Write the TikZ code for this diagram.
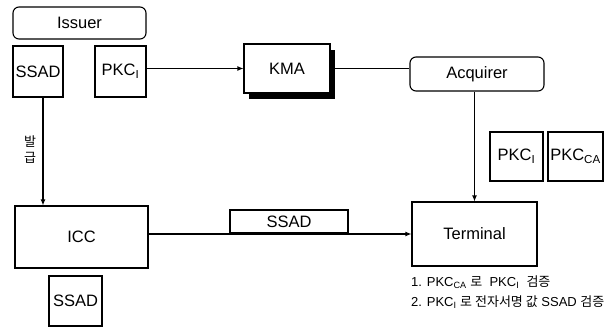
\documentclass[tikz,border=0pt]{standalone}
\usepackage{fontspec}
\setmainfont{Liberation Sans}
\newfontfamily\kr{Noto Sans CJK KR}
\usetikzlibrary{arrows.meta}
\begin{document}
\begin{tikzpicture}[x=1pt,y=-1pt,
  every node/.style={font=\fontsize{16.5}{18}\selectfont, inner sep=0pt},
  box/.style={draw, line width=1.1pt, fill=white},
  rbox/.style={box, rounded corners=6pt},
  conn/.style={line width=1.1pt},
  arr/.style={conn, -{Latex[length=6pt,width=5pt]}},
  note/.style={font=\fontsize{13}{15}\selectfont, anchor=west}]
\useasboundingbox (0,0) rectangle (608,327);
% Issuer side
\node[rbox, minimum width=133pt, minimum height=32pt] (issuer) at (79.5,23) {Issuer};
\node[box, minimum width=50pt, minimum height=51pt] (ssad1) at (38,71.5) {SSAD};
\node[box, minimum width=51pt, minimum height=51pt] (pkc1) at (120.5,71.5) {PKC\textsubscript{I}};
% KMA with shadow
\fill[black] (249,50) rectangle (335,99);
\node[box, minimum width=86pt, minimum height=49pt] (kma) at (287,68.5) {KMA};
% Acquirer
\node[rbox, minimum width=134pt, minimum height=34pt] (acq) at (477,74) {Acquirer};
\node[box, minimum width=53pt, minimum height=49pt] (pkc2) at (516.5,156.5) {PKC\textsubscript{I}};
\node[box, minimum width=55pt, minimum height=49pt] (pkcca) at (575.5,156.5) {PKC\textsubscript{CA}};
% Terminal and ICC
\node[box, minimum width=125pt, minimum height=64pt] (term) at (474.5,234) {Terminal};
\node[box, minimum width=133pt, minimum height=62pt] (icc) at (81.5,237) {ICC};
\node[box, minimum width=118pt, minimum height=23pt] (ssad2) at (289,221.5) {SSAD};
\node[box, minimum width=53pt, minimum height=50pt] (ssad3) at (75.5,301) {SSAD};
% label
\node[font=\kr\fontsize{13}{16}\selectfont, align=center] (lbl) at (30,150) {발\\급};
% connectors
\draw[arr] (kma.west -| pkc1.east) -- (kma.west);
\draw[conn] (kma.east) -- (kma.east -| acq.west);
\draw[arr] (acq.south -| term.north) -- (term.north);
\draw[arr] ([xshift=5pt]ssad1.south) -- ([xshift=5pt]ssad1.south |- icc.north);
\draw[arr] (term.west -| icc.east) -- (term.west);
% notes
\node[note] (n1) at (411,282) {1. PKC\textsubscript{CA} {\kr 로}\ \ PKC\textsubscript{I}\ \ {\kr 검증}};
\node[note] (n2) at (411,302) {2. PKC\textsubscript{I} {\kr 로 전자서명 값} SSAD {\kr 검증}};
\end{tikzpicture}
\end{document}
